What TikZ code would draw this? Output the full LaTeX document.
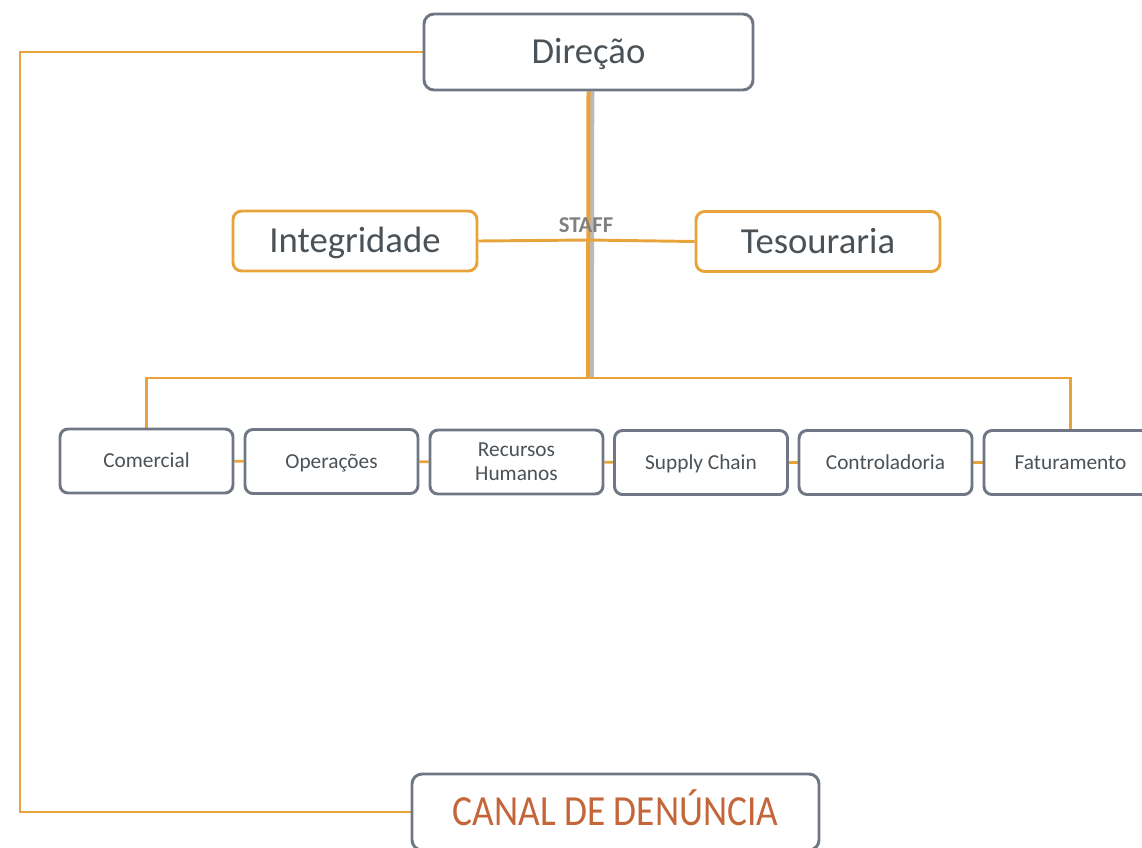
\documentclass[tikz,border=0pt]{standalone}
\usepackage{fontspec}
\setmainfont{Carlito}
\usepackage{tikz}
\pgfdeclarelayer{edgelayer}
\pgfdeclarelayer{nodelayer}
\pgfsetlayers{edgelayer,nodelayer,main}
\definecolor{boxgray}{RGB}{112,119,132}
\definecolor{textgray}{RGB}{74,82,88}
\definecolor{lineorange}{RGB}{232,163,58}
\definecolor{canalred}{RGB}{196,102,58}
\tikzstyle{bigbox}=[rectangle, rounded corners=7.5pt, fill=white, draw=boxgray, line width=2.2pt, text=textgray, inner sep=0pt, text height=17.5pt, text depth=0pt, font=\fontsize{27.5}{32}\selectfont]
\tikzstyle{staffbox}=[bigbox, draw=lineorange, rounded corners=6.5pt, minimum width=183pt, minimum height=45pt]
\tikzstyle{deptbox}=[rectangle, rounded corners=6pt, fill=white, draw=boxgray, line width=2.2pt, text=textgray, inner sep=0pt, align=center, minimum width=129.75pt, minimum height=48pt, font=\fontsize{16}{18}\selectfont]
\tikzstyle{edge}=[draw=lineorange, line width=2.2pt]
\tikzstyle{shadowedge}=[draw=black!45, line width=3.5pt, opacity=0.6]

\begin{document}
\begin{tikzpicture}[x=0.75pt, y=-0.75pt]
	\useasboundingbox (0,0) rectangle (1142,847);
	\begin{pgfonlayer}{nodelayer}

	%top
		\node [style=bigbox, minimum width=246.75pt, minimum height=57pt] (0) at (588.5,52) {Direção};

	%staff
		\node [style=staffbox] (1) at (355,241) {Integridade};
		\node [style=staffbox] (2) at (818,241.5) {Tesouraria};
		\node [text=black!50, font=\fontsize{17}{20}\selectfont\bfseries] (3) at (586,225) {STAFF};

	%departments
		\node [style=deptbox, text height=10.3pt, text depth=0pt] (10) at (146.5,461) {Comercial};
		\node [style=deptbox, text height=10.3pt, text depth=0pt] (11) at (331.5,461.5) {Operações};
		\node [style=deptbox] (12) at (516.5,462) {Recursos\\Humanos};
		\node [style=deptbox, text height=10.3pt, text depth=0pt] (13) at (701,462.5) {Supply Chain};
		\node [style=deptbox, text height=10.3pt, text depth=0pt] (14) at (885.5,462.5) {Controladoria};
		\node [style=deptbox, text height=10.3pt, text depth=0pt] (15) at (1070.5,462.5) {Faturamento};

	%canal
		\node [style=bigbox, minimum width=305.25pt, minimum height=57pt, text=canalred, text height=20.7pt, text depth=-3pt, font=\fontsize{28}{32}\selectfont] (7) at (615.5,812) {\scalebox{1}[1.15]{CANAL DE DENÚNCIA}};

		\coordinate (20) at (588,378);
		\coordinate (21) at (588,240);
		\coordinate (22) at (20,52);

	\end{pgfonlayer}
	\begin{pgfonlayer}{edgelayer}

		%hierarchy
		\draw [style=shadowedge] ([xshift=2.6pt]0.south) -- ([xshift=2.6pt]20);
		\draw [style=edge, line width=3pt] (0.south) -- (20);
		\draw [style=edge] (10.north) |- (20) -| (15.north);

		%staff
		\draw [style=edge] (1.east) -- (21) -- (2.west);

		%departments
		\draw [style=edge] (10) to (11);
		\draw [style=edge] (11) to (12);
		\draw [style=edge] (12) to (13);
		\draw [style=edge] (13) to (14);
		\draw [style=edge] (14) to (15);

		%canal
		\draw [style=edge] (0.west) -- (22) |- (7.west);

	\end{pgfonlayer}
\end{tikzpicture}
\end{document}
